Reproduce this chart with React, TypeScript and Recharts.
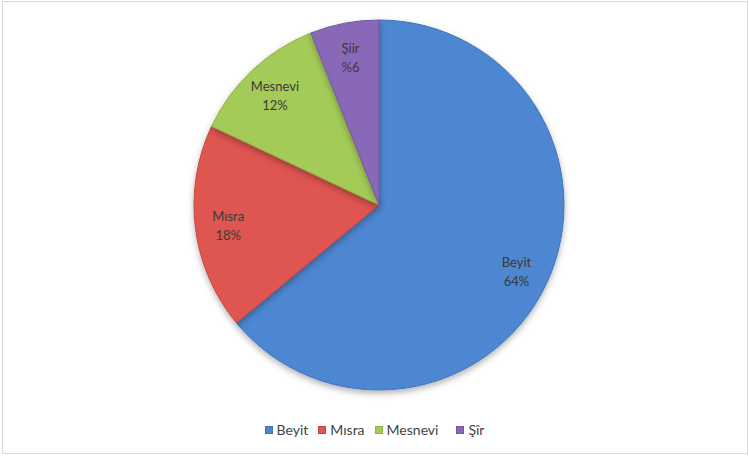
import { Cell, Legend, Pie, PieChart } from "recharts";

const categories = ["Beyit", "Mısra", "Mesnevi", "Şiir"];
const legendNames = ["Beyit", "Mısra", "Mesnevi", "Şîr"];
const shares = [64, 18, 12, 6];
const shareLabels = ["64%", "18%", "12%", "%6"];
const colors = ["#4D86D1", "#DF5550", "#A4CB58", "#8A68B8"];
const edges = ["#3F74BA", "#C54642", "#8EB446", "#7457A2"];

const data = categories.map((name, i) => ({ name, value: shares[i], label: shareLabels[i] }));

const RADIAN = Math.PI / 180;

function renderLabel(props: any) {
  const { cx, cy, midAngle, index } = props;
  const r = 152;
  const x = cx + r * Math.cos(-midAngle * RADIAN);
  const y = cy + r * Math.sin(-midAngle * RADIAN);
  return (
    <text
      x={x}
      y={y}
      textAnchor="middle"
      fill="#3a3a3a"
      fontSize={13}
      fontFamily="Lato, sans-serif"
    >
      <tspan x={x} dy={-3}>{categories[index]}</tspan>
      <tspan x={x} dy={19}>{shareLabels[index]}</tspan>
    </text>
  );
}

function renderLegend() {
  return (
    <div
      style={{
        display: "flex",
        justifyContent: "center",
        fontFamily: "Lato, sans-serif",
        fontSize: 14,
        color: "#444",
      }}
    >
      {legendNames.map((n, i) => (
        <span
          key={n}
          style={{ display: "flex", alignItems: "center", marginLeft: i === 0 ? 0 : i === 3 ? 18 : 10 }}
        >
          <span
            style={{
              width: 8,
              height: 8,
              background: colors[i],
              border: `1px solid ${edges[i]}`,
              marginRight: 4,
              boxSizing: "border-box",
            }}
          />
          {n}
        </span>
      ))}
    </div>
  );
}

export default function App() {
  return (
    <div
      style={{
        position: "absolute",
        left: 0,
        top: 0,
        width: 749,
        height: 457,
        background: "#fff",
      }}
    >
      <div
        style={{
          position: "absolute",
          left: 2,
          top: 1,
          width: 744,
          height: 451,
          border: "1px solid #d9d9d9",
        }}
      />
      <PieChart width={749} height={457} margin={{ top: 0, right: 0, bottom: 0, left: 0 }}>
        <defs>
          <filter id="pieShadow" x="-20%" y="-20%" width="140%" height="140%">
            <feDropShadow dx="0" dy="3" stdDeviation="3" floodColor="#000" floodOpacity="0.3" />
          </filter>
        </defs>
        <Pie
          data={data}
          dataKey="value"
          nameKey="name"
          cx={379}
          cy={205}
          outerRadius={185}
          startAngle={90}
          endAngle={-270}
          stroke="#ffffff"
          strokeWidth={1}
          label={renderLabel}
          labelLine={false}
          isAnimationActive={false}
          style={{ filter: "url(#pieShadow)" }}
        >
          {data.map((d, i) => (
            <Cell key={d.name} fill={colors[i]} stroke={edges[i]} />
          ))}
        </Pie>
        <Legend
          content={renderLegend}
          verticalAlign="bottom"
          wrapperStyle={{ top: 421, left: 0, width: 749 }}
        />
      </PieChart>
    </div>
  );
}
